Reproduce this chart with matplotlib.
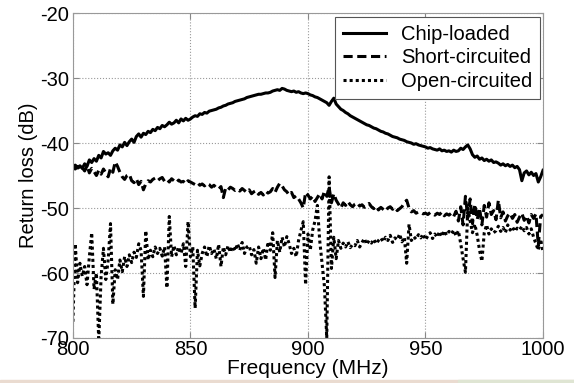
import numpy as np
import matplotlib
matplotlib.use("Agg")
import matplotlib.pyplot as plt
from matplotlib.patches import Rectangle

plt.rcParams['font.family'] = ['Liberation Sans', 'DejaVu Sans']
plt.rcParams['axes.unicode_minus'] = False

# frequency grid, 1 MHz steps
freq = np.arange(800, 1001, 1)

chip_loaded = [
    -43.6, -43.4, -43.8, -43.5, -43.9, -43.2, -43.6, -42.6, -43.0, -42.4,
    -42.8, -41.9, -42.3, -41.3, -41.7, -41.5, -41.9, -41.2, -40.8, -41.1,
    -40.3, -40.6, -39.9, -40.4, -39.8, -39.4, -39.9, -39.0, -38.6, -39.1,
    -38.5, -38.7, -38.2, -38.4, -37.9, -38.1, -37.6, -37.8, -37.3, -37.5,
    -37.2, -36.8, -37.1, -36.9, -36.5, -36.9, -36.3, -36.6, -36.2, -36.5,
    -36.3, -36.0, -35.8, -35.9, -35.5, -35.6, -35.3, -35.4, -35.1, -35.0,
    -34.9, -34.8, -34.6, -34.5, -34.3, -34.2, -34.0, -33.9, -33.8, -33.6,
    -33.5, -33.4, -33.3, -33.2, -33.0, -32.9, -32.8, -32.7, -32.6, -32.5,
    -32.5, -32.4, -32.3, -32.3, -32.2, -32.0, -31.9, -31.8, -31.9, -31.6,
    -31.7, -31.9, -32.0, -32.1, -32.0, -32.2, -32.1, -32.3, -32.4, -32.3,
    -32.4, -32.6, -32.7, -32.9, -33.0, -33.2, -33.4, -33.6, -33.8, -34.2,
    -33.6, -33.1, -34.0, -34.4, -34.8, -35.0, -35.3, -35.5, -35.8, -36.0,
    -36.2, -36.4, -36.6, -36.8, -37.0, -37.2, -37.3, -37.5, -37.7, -37.8,
    -38.0, -38.2, -38.3, -38.5, -38.6, -38.8, -39.0, -39.1, -39.2, -39.4,
    -39.5, -39.6, -39.8, -39.9, -40.0, -40.2, -40.1, -40.3, -40.4, -40.5,
    -40.6, -40.8, -40.7, -40.9, -41.0, -41.1, -40.9, -41.2, -41.1, -41.3,
    -41.2, -41.4, -41.1, -41.3, -41.2, -40.8, -41.0, -40.6, -40.3, -40.9,
    -41.8, -42.2, -42.0, -42.5, -42.3, -42.7, -42.5, -42.8, -42.6, -43.0,
    -42.9, -43.1, -43.4, -43.2, -43.5, -43.3, -43.6, -43.4, -43.8, -43.6,
    -44.1, -45.8, -44.6, -44.3, -44.9, -44.5, -45.0, -44.7, -46.0, -45.2,
    -44.2,
]

short_circuited = [
    -43.8, -44.0, -43.6, -44.2, -43.8, -44.3, -43.5, -44.6, -43.9, -44.4,
    -45.0, -44.2, -44.8, -44.0, -44.6, -45.2, -43.9, -44.5, -42.9, -43.6,
    -44.5, -45.2, -45.6, -45.0, -44.8, -45.8, -46.1, -45.5, -46.4, -45.9,
    -47.2, -46.3, -45.8, -46.0, -45.6, -45.4, -45.8, -45.5, -45.3, -45.9,
    -45.6, -46.0, -45.5, -45.8, -46.1, -45.7, -46.0, -45.9, -46.3, -45.8,
    -46.0, -46.2, -46.4, -46.1, -46.5, -46.3, -46.6, -46.2, -46.4, -46.8,
    -46.5, -46.9, -47.1, -46.7, -48.4, -46.9, -47.2, -46.8, -47.0, -47.3,
    -47.1, -47.4, -47.0, -47.3, -47.6, -47.2, -47.8, -47.5, -47.3, -47.9,
    -47.6, -48.0, -47.4, -47.7, -47.5, -47.0, -47.6, -46.8, -46.2, -46.6,
    -47.2, -47.5, -48.0, -47.6, -48.4, -48.1, -48.6, -49.2, -50.0, -47.6,
    -48.0, -48.6, -48.2, -49.0, -48.4, -47.8, -48.6, -47.4, -48.2, -46.8,
    -49.2, -47.8, -48.8, -49.4, -50.0, -49.2, -49.6, -49.0, -49.5, -49.8,
    -49.4, -49.2, -49.7, -49.5, -49.9, -49.6, -49.3, -49.8, -50.1, -49.7,
    -50.3, -49.9, -50.2, -50.5, -50.0, -49.8, -50.2, -49.9, -50.4, -50.1,
    -49.8, -49.2, -48.8, -50.0, -50.6, -50.4, -50.8, -50.6, -50.7, -50.9,
    -50.8, -51.0, -50.7, -50.9, -51.1, -50.8, -51.0, -50.6, -51.2, -50.9,
    -51.1, -50.8, -51.3, -50.5, -52.0, -49.8, -52.6, -48.2, -51.5, -48.6,
    -52.4, -49.4, -51.8, -50.0, -52.6, -49.6, -51.4, -49.2, -51.0, -50.4,
    -51.8, -48.8, -51.5, -50.6, -52.0, -51.2, -50.8, -51.6, -51.0, -52.2,
    -51.4, -50.8, -51.9, -51.2, -52.3, -51.0, -51.6, -50.9, -55.8, -51.3,
    -51.0,
]

open_circuited = [
    -67.5, -55.5, -61.5, -58.5, -60.5, -59.0, -61.8, -57.5, -53.8, -62.5,
    -60.0, -70.5, -60.5, -56.2, -61.0, -58.0, -52.4, -64.8, -59.5, -61.0,
    -58.0, -59.8, -57.5, -59.0, -57.2, -58.4, -56.8, -57.6, -55.5, -56.5,
    -63.6, -53.5, -58.0, -56.5, -57.5, -56.0, -57.0, -56.2, -57.4, -56.0,
    -62.3, -51.3, -57.5, -55.8, -57.2, -56.0, -57.0, -55.5, -59.0, -52.1,
    -57.5, -56.0, -65.4, -56.5, -58.9, -57.0, -56.0, -57.5, -55.8, -57.0,
    -56.3, -57.8, -55.6, -59.0, -56.0, -57.2, -55.8, -56.8, -55.9, -56.6,
    -55.5, -56.5, -55.3, -57.0, -56.0, -55.8, -57.2, -56.4, -58.5, -56.0,
    -57.8, -56.2, -58.0, -55.2, -56.5, -53.8, -60.7, -55.0, -56.8, -54.5,
    -56.0, -54.4, -55.5, -57.0, -56.2, -57.5, -55.0, -53.5, -52.1, -61.8,
    -54.0, -56.5, -53.4, -52.0, -49.6, -55.0, -58.5, -62.0, -70.0, -45.2,
    -59.3, -54.5, -57.8, -55.0, -56.2, -55.4, -56.0, -55.2, -56.1, -55.6,
    -55.8, -55.0, -56.0, -55.3, -54.7, -55.6, -55.0, -55.4, -54.8, -55.5,
    -55.0, -54.6, -55.2, -54.5, -55.0, -54.2, -55.3, -54.6, -54.9, -54.0,
    -55.2, -54.5, -58.5, -52.5, -55.0, -54.4, -54.8, -54.1, -54.6, -54.0,
    -54.9, -54.3, -53.8, -54.7, -54.0, -54.5, -53.6, -54.4, -53.5, -54.2,
    -53.6, -54.0, -53.4, -54.3, -53.5, -55.5, -57.8, -59.9, -50.0, -52.0,
    -53.8, -52.5, -54.2, -56.5, -58.2, -53.8, -52.6, -54.0, -53.2, -53.8,
    -53.5, -52.8, -53.6, -53.0, -53.8, -52.6, -53.4, -52.9, -53.6, -53.1,
    -53.4, -52.8, -53.5, -53.0, -54.0, -53.2, -54.5, -55.5, -56.5, -54.8,
    -56.8,
]

x_ticks = [800, 850, 900, 950, 1000]
y_ticks = [-70, -60, -50, -40, -30, -20]

fig = plt.figure(figsize=(5.74, 3.83), dpi=100)
ax = fig.add_axes([0.127, 0.1175, 0.819, 0.8485])

ax.plot(freq, chip_loaded, color='black', lw=2.2, ls='-', label='Chip-loaded')
ax.plot(freq, short_circuited, color='black', lw=2.2, ls=(0, (3, 1.5)), label='Short-circuited')
ax.plot(freq, open_circuited, color='black', lw=2.2, ls=(0, (1, 1)), label='Open-circuited')

ax.set_xlim(800, 1000)
ax.set_ylim(-70, -20)
ax.set_xticks(x_ticks)
ax.set_yticks(y_ticks)
ax.grid(True, ls=':', color='#999999', lw=0.8)
ax.tick_params(direction='in', length=4, top=True, right=True, labelsize=14.5,
               color='#888888')
ax.tick_params(axis='x', pad=1.5)
ax.tick_params(axis='y', pad=3)
for s in ax.spines.values():
    s.set_color('#999999')
    s.set_linewidth(0.8)

ax.set_xlabel('Frequency (MHz)', fontsize=15, labelpad=0)
ax.set_ylabel('Return loss (dB)', fontsize=14.5, labelpad=1)

leg = ax.legend(loc='upper right', bbox_to_anchor=(0.994, 0.988), fontsize=14.5,
                frameon=True, fancybox=False, framealpha=1, handlelength=2.1,
                borderaxespad=0, labelspacing=0.22, handletextpad=0.75,
                borderpad=0.4)
leg.get_frame().set_edgecolor('#555555')
leg.get_frame().set_linewidth(0.8)

# thin screenshot strip along the bottom edge
fig.patches.append(Rectangle((0, 0), 1, 3 / 383, transform=fig.transFigure,
                             color='#eadbd0', zorder=0))
fig.patches.append(Rectangle((458 / 574, 0), 116 / 574, 3 / 383, transform=fig.transFigure,
                             color='#dfe5d3', zorder=0))

fig.savefig('out.png', dpi=100)
